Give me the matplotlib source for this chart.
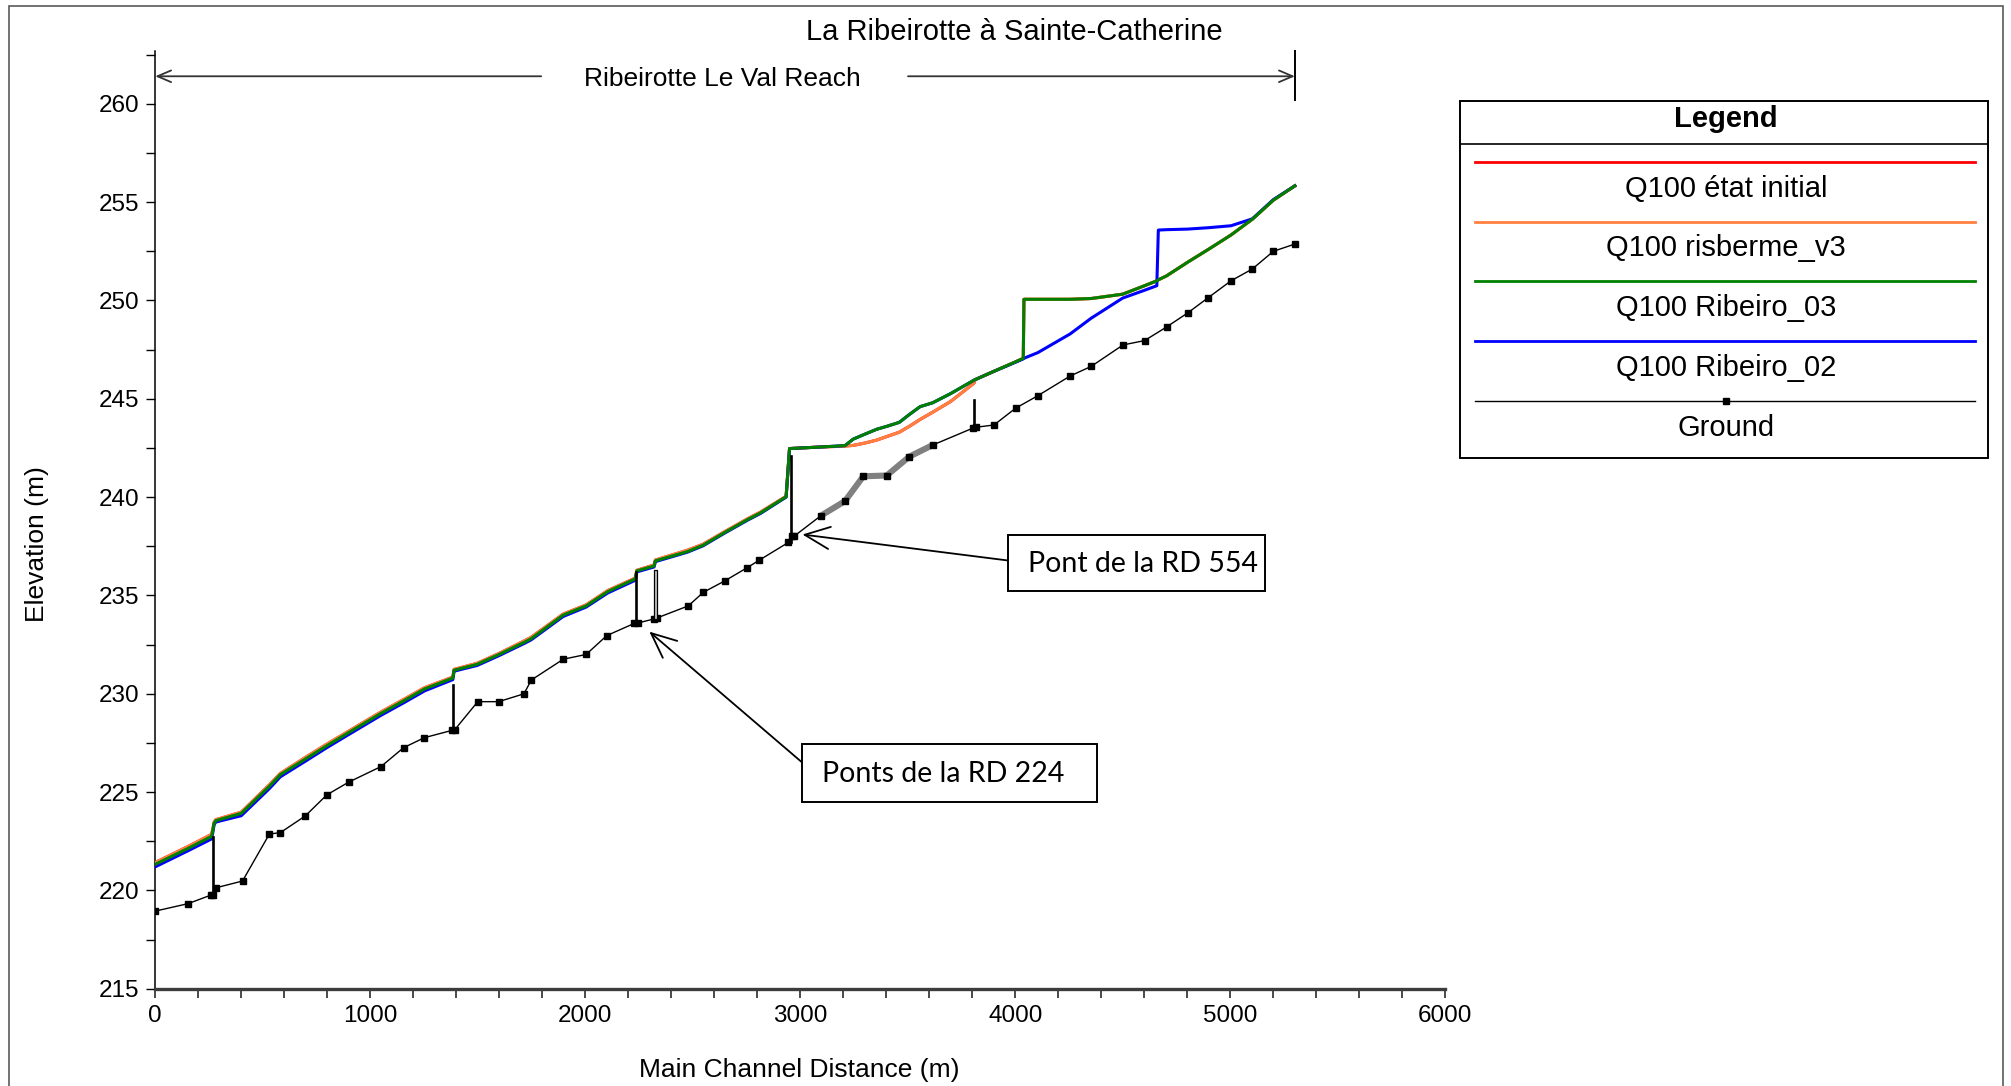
import matplotlib
matplotlib.use("Agg")
import matplotlib.pyplot as plt
from matplotlib.patches import Rectangle
from matplotlib.lines import Line2D
from matplotlib.ticker import MultipleLocator
from matplotlib import font_manager

# ---------------------------------------------------------------- data
title = "La Ribeirotte à Sainte-Catherine"
reach_label = "Ribeirotte Le Val Reach"
x_label = "Main Channel Distance (m)"
y_label = "Elevation (m)"

# stations of the computed water surfaces (m)
ws_x = [0, 153, 262, 268, 274, 282, 400, 531, 582, 698, 798, 900, 1049, 1157,
        1253, 1384, 1390, 1497, 1599, 1718, 1748, 1897, 2004, 2105, 2232, 2240,
        2320, 2326, 2475, 2547, 2648, 2755, 2815, 2934, 2950, 3095, 3176, 3208,
        3246, 3300, 3355, 3402, 3460, 3507, 3557, 3616, 3700, 3808, 3812, 3901,
        4001, 4037, 4040, 4105, 4255, 4353, 4499, 4601, 4658, 4665, 4703, 4802,
        4898, 5003, 5102, 5200, 5300]

ws_etat_initial = [221.42, 222.24, 222.85, 223.12, 223.47, 223.60, 223.98, 225.37,
                   225.95, 226.76, 227.44, 228.10, 229.07, 229.72, 230.31, 230.85,
                   231.24, 231.55, 232.05, 232.70, 232.87, 234.05, 234.52, 235.25,
                   235.88, 236.28, 236.55, 236.80, 237.30, 237.60, 238.24, 238.90,
                   239.24, 240.04, 242.47, 242.55, 242.58, 242.60, 242.63, 242.75,
                   242.90, 243.08, 243.30, 243.60, 243.95, 244.32, 244.87, 245.80,
                   245.97, 246.40, 246.88, 247.06, 250.06, 250.06, 250.06, 250.10,
                   250.32, 250.75, 251.00, 251.05, 251.25, 251.95, 252.60, 253.33,
                   254.13, 255.10, 255.83]

ws_risberme_v3 = [221.42, 222.24, 222.85, 223.12, 223.47, 223.60, 223.98, 225.37,
                  225.95, 226.76, 227.44, 228.10, 229.07, 229.72, 230.31, 230.85,
                  231.24, 231.55, 232.05, 232.70, 232.87, 234.05, 234.52, 235.25,
                  235.88, 236.28, 236.55, 236.80, 237.30, 237.60, 238.24, 238.90,
                  239.24, 240.04, 242.47, 242.55, 242.58, 242.60, 242.63, 242.75,
                  242.90, 243.08, 243.30, 243.60, 243.95, 244.32, 244.87, 245.80,
                  245.97, 246.40, 246.88, 247.06, 250.06, 250.06, 250.06, 250.10,
                  250.32, 250.75, 251.00, 251.05, 251.25, 251.95, 252.60, 253.33,
                  254.13, 255.10, 255.83]

ws_ribeiro_03 = [221.33, 222.14, 222.75, 223.05, 223.42, 223.55, 223.92, 225.30,
                 225.89, 226.68, 227.36, 228.03, 229.00, 229.65, 230.25, 230.80,
                 231.20, 231.50, 232.00, 232.63, 232.80, 234.00, 234.47, 235.20,
                 235.84, 236.25, 236.50, 236.76, 237.23, 237.55, 238.20, 238.86,
                 239.20, 240.02, 242.47, 242.55, 242.60, 242.62, 242.95, 243.20,
                 243.45, 243.60, 243.80, 244.20, 244.60, 244.80, 245.27, 245.95,
                 245.97, 246.40, 246.88, 247.06, 250.06, 250.06, 250.06, 250.10,
                 250.32, 250.75, 251.00, 251.05, 251.25, 251.95, 252.60, 253.33,
                 254.13, 255.10, 255.83]

ws_ribeiro_02 = [221.20, 222.02, 222.62, 222.95, 223.35, 223.48, 223.80, 225.18,
                 225.78, 226.57, 227.26, 227.93, 228.90, 229.55, 230.15, 230.72,
                 231.15, 231.44, 231.94, 232.57, 232.74, 233.93, 234.41, 235.13,
                 235.77, 236.20, 236.45, 236.72, 237.20, 237.52, 238.17, 238.83,
                 239.17, 240.00, 242.47, 242.55, 242.60, 242.62, 242.95, 243.20,
                 243.45, 243.60, 243.80, 244.20, 244.60, 244.80, 245.27, 245.95,
                 245.97, 246.40, 246.86, 247.03, 247.06, 247.35, 248.30, 249.10,
                 250.12, 250.52, 250.75, 253.58, 253.60, 253.63, 253.70, 253.80,
                 254.15, 255.13, 255.83]

# channel bed
ground_x = [0, 153, 258, 268, 284, 406, 531, 582, 698, 798, 900, 1050, 1155, 1252,
            1380, 1392, 1500, 1597, 1715, 1749, 1898, 2004, 2100, 2228, 2244, 2318,
            2332, 2479, 2549, 2650, 2751, 2810, 2945, 2960, 2972, 3095, 3208, 3293,
            3402, 3507, 3616, 3805, 3815, 3901, 4001, 4105, 4255, 4353, 4501, 4601,
            4703, 4802, 4898, 5003, 5102, 5200, 5300]
ground_z = [218.95, 219.33, 219.76, 219.78, 220.14, 220.48, 222.87, 222.94, 223.79,
            224.86, 225.51, 226.30, 227.26, 227.77, 228.14, 228.16, 229.60, 229.60,
            230.00, 230.70, 231.76, 232.00, 232.96, 233.58, 233.60, 233.80, 233.85,
            234.47, 235.16, 235.75, 236.40, 236.80, 237.70, 238.00, 238.02, 239.05,
            239.80, 241.06, 241.10, 242.06, 242.65, 243.52, 243.55, 243.67, 244.52,
            245.16, 246.16, 246.65, 247.74, 247.96, 248.65, 249.37, 250.15, 251.00,
            251.60, 252.50, 252.87]
# reach where the sections are interpolated
interp_start, interp_end = 3095, 3616

# bridges: station, bed and deck elevation
bridge_x = [270, 1386, 2236, 2326, 2955, 3810]
bridge_low = [219.78, 228.15, 233.60, 233.82, 237.70, 243.53]
bridge_high = [222.70, 230.45, 236.20, 236.30, 242.07, 244.94]

# reach extent
reach_start, reach_end = 0, 5300

# callouts: label and the point they designate
callout_labels = ["Pont de la RD 554", "Ponts de la RD 224"]
callout_points = [(3010, 238.1), (2298, 233.16)]

series_names = ["Q100 état initial", "Q100 risberme_v3", "Q100 Ribeiro_03",
                "Q100 Ribeiro_02"]
series_values = [ws_etat_initial, ws_risberme_v3, ws_ribeiro_03, ws_ribeiro_02]
series_colors = ["#ff0000", "#ff8040", "#008000", "#0000ff"]
series_zorder = [2, 3, 5, 4]

# ---------------------------------------------------------------- fonts
REG = "Liberation Sans"
try:
    font_manager.findfont("Liberation Sans Narrow", fallback_to_default=False)
    NARROW = ["Liberation Sans Narrow", REG]
    tick_size, axlabel_size = 19, 22.5
except ValueError:
    NARROW = [REG]
    tick_size, axlabel_size = 17.5, 19
CALLOUT_FONT = ["Lato", "Carlito", REG]

# ---------------------------------------------------------------- figure
W, H = 2011, 1086
fig = plt.figure(figsize=(W / 100, H / 100), dpi=100)


def fx(px):
    return px / W


def fy(py):
    return 1 - py / H


# outer frame
fig.add_artist(Rectangle((fx(9), fy(1100)), fx(2003) - fx(9), fy(6.5) - fy(1100),
                         transform=fig.transFigure, fill=False,
                         edgecolor="#5a5a5a", lw=1.2))

ax = fig.add_axes([fx(155.2), fy(988.8), fx(1445.4) - fx(155.2),
                   fy(51.3) - fy(988.8)])
ax.set_xlim(0, 6000)
ax.set_ylim(215, 262.67)

for s in ("top", "right"):
    ax.spines[s].set_visible(False)
ax.spines["left"].set_linewidth(1.1)
ax.spines["left"].set_color("black")
ax.spines["bottom"].set_linewidth(2.4)
ax.spines["bottom"].set_color("#3c3c3c")

ax.xaxis.set_major_locator(MultipleLocator(1000))
ax.xaxis.set_minor_locator(MultipleLocator(200))
ax.set_yticks([215, 220, 225, 230, 235, 240, 245, 250, 255, 260])
ax.yaxis.set_minor_locator(MultipleLocator(2.5))
ax.tick_params(axis="both", which="both", direction="out", length=6.5,
               width=1.0, pad=5.0, labelsize=tick_size, colors="black")
ax.tick_params(axis="x", which="both", color="#3c3c3c", width=1.3)
for lbl in ax.get_xticklabels() + ax.get_yticklabels():
    lbl.set_fontfamily(NARROW)

# water surfaces
for vals, col, z in zip(series_values, series_colors, series_zorder):
    ax.plot(ws_x, vals, color=col, lw=2.2, zorder=z, solid_joinstyle="round")

# bed line
ax.plot(ground_x, ground_z, color="black", lw=1.0, zorder=6)

# interpolated bed sections drawn over the bed line
ix = [x for x in ground_x if interp_start <= x <= interp_end]
iz = [z for x, z in zip(ground_x, ground_z) if interp_start <= x <= interp_end]
ax.plot(ix, iz, color="#808080", lw=4.4, zorder=7, solid_capstyle="butt")

# bed survey points
ax.plot(ground_x, ground_z, color="black", lw=0, marker="s", markersize=5.0,
        zorder=8)

# bridges
for i, (bx, lo, hi) in enumerate(zip(bridge_x, bridge_low, bridge_high)):
    if i == 3:
        ax.add_patch(Rectangle((bx - 6, lo), 12, hi - lo, facecolor="#c8c8c8",
                               edgecolor="black", lw=0.9, zorder=8))
    else:
        ax.plot([bx, bx], [lo, hi], color="black", lw=1.9, zorder=8)

# reach extent arrows
y_reach = 261.4
ax.text((reach_start + reach_end) / 2 - 11, y_reach - 0.15, reach_label,
        ha="center", va="center", fontsize=19, family=REG, zorder=9)
ax.annotate("", xy=(reach_start, y_reach), xytext=(1795, y_reach),
            arrowprops=dict(arrowstyle="->,head_length=0.7,head_width=0.3",
                            color="#333333", lw=1.3, shrinkA=0, shrinkB=0,
                            mutation_scale=14),
            annotation_clip=False)
ax.annotate("", xy=(reach_end, y_reach), xytext=(3501, y_reach),
            arrowprops=dict(arrowstyle="->,head_length=0.7,head_width=0.3",
                            color="#333333", lw=1.3, shrinkA=0, shrinkB=0,
                            mutation_scale=14),
            annotation_clip=False)
ax.plot([reach_end, reach_end], [260.2, 262.67], color="black", lw=1.4,
        clip_on=False, zorder=9)

# callouts (box in pixels: left, top, right, bottom; arrow start)
callout_boxes = [(1008, 535, 1265, 591), (801.6, 744, 1096.5, 801.6)]
callout_starts = [(1008, 560.5), (801.6, 762)]
for text, pt, box, start in zip(callout_labels, callout_points, callout_boxes,
                                callout_starts):
    l, t, r, b = box
    fig.add_artist(Rectangle((fx(l), fy(b)), fx(r) - fx(l), fy(t) - fy(b),
                             transform=fig.transFigure, facecolor="white",
                             edgecolor="black", lw=1.4, zorder=10))
    fig.text(fx(l + 20.5), fy((t + b) / 2 + 1), text, ha="left", va="center",
             fontsize=20.5, family=CALLOUT_FONT, zorder=11)
    ax.annotate("", xy=pt, xycoords="data",
                xytext=(fx(start[0]), fy(start[1])), textcoords="figure fraction",
                arrowprops=dict(arrowstyle="->,head_length=0.9,head_width=0.4",
                                color="black", lw=1.3, shrinkA=0, shrinkB=0,
                                mutation_scale=20),
                zorder=9)

# titles
fig.text(fx(1014.5), fy(32), title, ha="center", va="center", fontsize=21,
         family=REG)
fig.text(fx(799), fy(1070), x_label, ha="center", va="center",
         fontsize=axlabel_size, family=NARROW)
fig.text(fx(37), fy(544), y_label, ha="center", va="center", rotation=90,
         fontsize=axlabel_size, family=NARROW)

# legend panel
lg_l, lg_t, lg_r, lg_b = 1459.5, 101, 1988, 458
fig.add_artist(Rectangle((fx(lg_l), fy(lg_b)), fx(lg_r) - fx(lg_l),
                         fy(lg_t) - fy(lg_b), transform=fig.transFigure,
                         fill=False, edgecolor="black", lw=1.4))
fig.add_artist(Line2D([fx(lg_l), fx(lg_r)], [fy(143.6), fy(143.6)],
                      transform=fig.transFigure, color="black", lw=1.2))
fig.text(fx(1726), fy(119), "Legend", ha="center", va="center", fontsize=21,
         fontweight="bold", family=REG)
line_rows = [161.6, 221.9, 280.9, 341.1, 401.4]
text_rows = [188.5, 248.5, 307.5, 368, 428.5]
for i, name in enumerate(series_names + ["Ground"]):
    yl = fy(line_rows[i])
    if i < len(series_names):
        fig.add_artist(Line2D([fx(1475), fx(1975)], [yl, yl],
                              transform=fig.transFigure,
                              color=series_colors[i], lw=2.0))
    else:
        fig.add_artist(Line2D([fx(1475), fx(1975)], [yl, yl],
                              transform=fig.transFigure, color="black", lw=1.0))
        fig.add_artist(Line2D([fx(1726)], [yl], transform=fig.transFigure,
                              color="black", marker="s", markersize=5.0,
                              lw=0))
    fig.text(fx(1726), fy(text_rows[i]), name, ha="center", va="center",
             fontsize=21, family=REG)

fig.savefig("out.png", dpi=100)
